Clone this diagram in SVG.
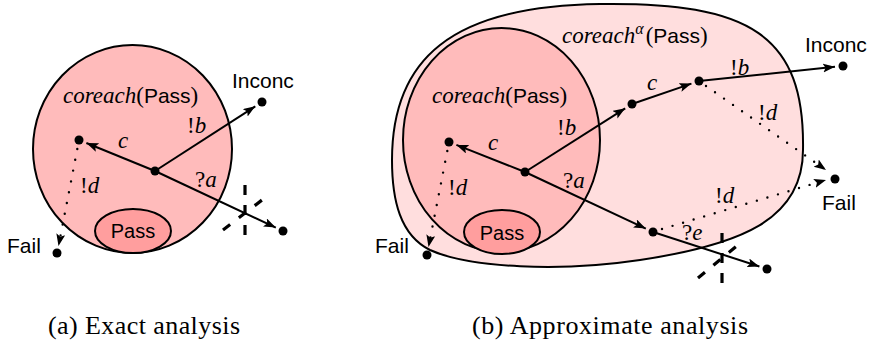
<svg xmlns="http://www.w3.org/2000/svg" width="878" height="346" viewBox="0 0 878 346">
<defs>
<marker id="ah" markerUnits="userSpaceOnUse" markerWidth="14" markerHeight="10" refX="12" refY="4.5" orient="auto">
<path d="M0,0 L12,4.5 L0,9 L2.5,4.5 Z" fill="#000"/>
</marker>
</defs>
<style>
.set{stroke:#000;stroke-width:2;}
.outer{fill:#FFDEDE;}
.inner{fill:#FFBBBB;}
.pass{fill:#FF9E9E;}
.edge{stroke:#000;stroke-width:2;fill:none;marker-end:url(#ah);}
.dot{stroke:#000;stroke-width:2.4;fill:none;stroke-dasharray:0 11;stroke-linecap:round;marker-end:url(#ah);}
.cut{stroke:#000;stroke-width:3.2;fill:none;stroke-dasharray:10 10;}
.node{fill:#000;}
.sans{font-family:"Liberation Sans","Noto Sans",sans-serif;font-size:21px;fill:#000;}
.m{font-family:"Liberation Serif","DejaVu Serif",serif;font-size:23px;fill:#000;}
.i{font-style:italic;}
.cap{font-family:"Liberation Serif","DejaVu Serif",serif;font-size:26px;fill:#000;}
</style>

<!-- Panel (a) -->
<g id="a-coreach">
<ellipse class="set inner" cx="132.5" cy="149" rx="99.5" ry="104"/>
<text class="m" x="63" y="103"><tspan class="i">coreach</tspan>(<tspan class="sans">Pass</tspan>)</text>
</g>
<g id="a-pass">
<ellipse class="set pass" cx="133" cy="231" rx="38" ry="22"/>
<text class="sans" x="133" y="238" text-anchor="middle" style="font-size:20px">Pass</text>
</g>
<g id="a-connectors">
<line class="edge" x1="155" y1="171" x2="86.4" y2="143"/>
<line class="edge" x1="155" y1="171" x2="255.3" y2="106.3"/>
<line class="edge" x1="155" y1="171" x2="275.8" y2="227.6"/>
<line class="dot" x1="77.3" y1="149" x2="58.5" y2="246"/>
<line class="cut" x1="245" y1="185" x2="245" y2="235"/>
<line class="cut" x1="223" y1="230" x2="262" y2="200" style="stroke-dasharray:9 11"/>
</g>
<g id="a-n0"><circle class="node" cx="155" cy="171" r="4.5"/></g>
<g id="a-n1"><circle class="node" cx="79" cy="140" r="4.5"/></g>
<g id="a-inconc"><circle class="node" cx="262" cy="102" r="4.5"/><text class="sans" x="232" y="88">Inconc</text></g>
<g id="a-n2"><circle class="node" cx="283" cy="231" r="4.5"/></g>
<g id="a-fail"><circle class="node" cx="57" cy="253" r="4.5"/><text class="sans" x="7" y="253">Fail</text></g>
<g id="a-labels">
<text class="m i" x="118" y="148">c</text>
<text class="m" x="187" y="133">!<tspan class="i">b</tspan></text>
<text class="m" x="195" y="187">?<tspan class="i">a</tspan></text>
<text class="m" x="80" y="193">!<tspan class="i">d</tspan></text>
</g>

<!-- Panel (b) -->
<g id="b-coreach-alpha">
<path class="set outer" d="M392,160 C392,60 450,6 600,4 C750,2 805,35 803,150 C803,220 740,245 640,260 C560,272 470,268 430,250 C400,235 392,200 392,160 Z"/>
<text class="m" x="562" y="43"><tspan class="i">coreach</tspan><tspan class="i" dy="-9" style="font-size:16px">α</tspan><tspan dy="9" dx="2">(</tspan><tspan class="sans">Pass</tspan>)</text>
</g>
<g id="b-coreach">
<ellipse class="set inner" cx="501.5" cy="140" rx="98.5" ry="112"/>
<text class="m" x="432" y="103"><tspan class="i">coreach</tspan>(<tspan class="sans">Pass</tspan>)</text>
</g>
<g id="b-pass">
<ellipse class="set pass" cx="502" cy="232" rx="38" ry="22"/>
<text class="sans" x="502" y="240" text-anchor="middle" style="font-size:20px">Pass</text>
</g>
<g id="b-connectors">
<line class="edge" x1="525" y1="172" x2="456.4" y2="144.9"/>
<line class="edge" x1="525" y1="172" x2="625.2" y2="108.3"/>
<line class="edge" x1="525" y1="172" x2="645.8" y2="228.6"/>
<line class="edge" x1="632" y1="104" x2="691.4" y2="83.6"/>
<line class="edge" x1="699" y1="81" x2="835" y2="66.8"/>
<line class="edge" x1="653" y1="232" x2="759.4" y2="266.5"/>
<line class="dot" x1="447.3" y1="151" x2="428.5" y2="247"/>
<line class="dot" x1="706" y1="86" x2="826" y2="170"/>
<line class="dot" x1="662" y1="229" x2="826" y2="180"/>
<line class="cut" x1="722" y1="233" x2="722" y2="283"/>
<line class="cut" x1="698" y1="278" x2="738" y2="245" style="stroke-dasharray:9 11"/>
</g>
<g id="b-n0"><circle class="node" cx="525" cy="172" r="4.5"/></g>
<g id="b-n1"><circle class="node" cx="449" cy="142" r="4.5"/></g>
<g id="b-fail1"><circle class="node" cx="427" cy="255" r="4.5"/><text class="sans" x="375" y="253">Fail</text></g>
<g id="b-n2"><circle class="node" cx="632" cy="104" r="4.5"/></g>
<g id="b-n3"><circle class="node" cx="699" cy="81" r="4.5"/></g>
<g id="b-inconc"><circle class="node" cx="843" cy="66" r="4.5"/><text class="sans" x="805" y="52">Inconc</text></g>
<g id="b-fail2"><circle class="node" cx="835" cy="179" r="4.5"/><text class="sans" x="822" y="210">Fail</text></g>
<g id="b-n4"><circle class="node" cx="653" cy="232" r="4.5"/></g>
<g id="b-n5"><circle class="node" cx="767" cy="269" r="4.5"/></g>
<g id="b-labels">
<text class="m i" x="488" y="150">c</text>
<text class="m" x="557" y="135">!<tspan class="i">b</tspan></text>
<text class="m" x="563" y="188">?<tspan class="i">a</tspan></text>
<text class="m" x="448" y="195">!<tspan class="i">d</tspan></text>
<text class="m i" x="647" y="90">c</text>
<text class="m" x="730" y="75">!<tspan class="i">b</tspan></text>
<text class="m" x="758" y="120">!<tspan class="i">d</tspan></text>
<text class="m" x="715" y="203">!<tspan class="i">d</tspan></text>
<text class="m" x="682" y="240">?<tspan class="i">e</tspan></text>
</g>

<g id="captions">
<text class="cap" x="48" y="334" textLength="192" lengthAdjust="spacing">(a) Exact analysis</text>
<text class="cap" x="472" y="334" textLength="276" lengthAdjust="spacing">(b) Approximate analysis</text>
</g>
</svg>
